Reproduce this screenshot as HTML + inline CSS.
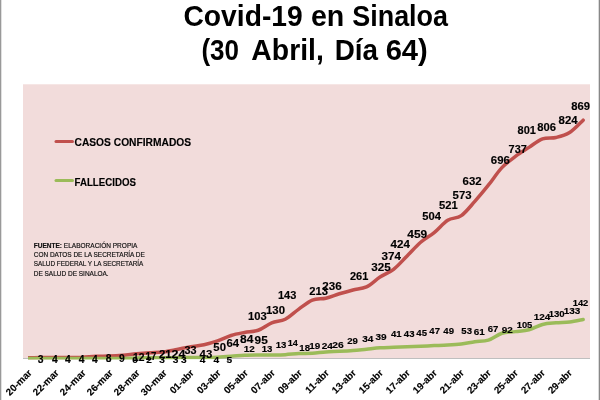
<!DOCTYPE html>
<html><head><meta charset="utf-8"><style>
html,body{margin:0;padding:0;background:#fff;}
body{width:600px;height:400px;overflow:hidden;position:relative;}
svg{position:absolute;left:0;top:0;will-change:transform;}
.lb{font-family:"Liberation Sans",sans-serif;font-weight:bold;fill:#000;stroke:#000;stroke-width:0.15px;}
.src{font-family:"Liberation Sans",sans-serif;fill:#111;stroke:#111;stroke-width:0.18px;}
.ttl{font-family:"Liberation Sans",sans-serif;font-weight:bold;fill:#000;}
.ax{font-family:"Liberation Sans",sans-serif;font-weight:bold;fill:#000;stroke:#000;stroke-width:0.15px;}
</style></head><body>
<svg width="600" height="400" viewBox="0 0 600 400">
<rect x="0" y="0" width="600" height="400" fill="#fff"/>
<rect x="0" y="0" width="1.3" height="400" fill="#999"/>
<rect x="598.7" y="0" width="1.3" height="400" fill="#888"/>
<rect x="23" y="84.3" width="567" height="274.5" fill="#F2DCDB"/>
<rect x="23" y="358" width="567" height="1" fill="#BFBFBF"/>
<clipPath id="pc"><rect x="28" y="0" width="572" height="359.5"/></clipPath>
<path clip-path="url(#pc)" d="M28.00,357.68 C30.26,357.63 37.03,357.45 41.54,357.40 C46.05,357.36 50.57,357.40 55.08,357.40 C59.59,357.40 64.11,357.40 68.62,357.40 C73.13,357.40 77.65,357.59 82.16,357.40 C86.67,357.22 91.19,356.53 95.70,356.31 C100.21,356.08 104.73,356.21 109.24,356.03 C113.75,355.85 118.27,355.58 122.78,355.21 C127.29,354.84 131.81,354.25 136.32,353.84 C140.83,353.43 145.35,353.06 149.86,352.74 C154.37,352.42 158.89,352.47 163.40,351.92 C167.91,351.37 172.43,350.32 176.94,349.45 C181.45,348.58 185.97,347.49 190.48,346.71 C194.99,345.93 199.51,345.75 204.02,344.79 C208.53,343.83 213.05,342.50 217.56,340.95 C222.07,339.40 226.59,336.88 231.10,335.47 C235.61,334.05 240.13,333.32 244.64,332.45 C249.15,331.58 253.67,331.86 258.18,330.26 C262.69,328.66 267.21,324.68 271.72,322.85 C276.23,321.03 280.75,321.57 285.26,319.29 C289.77,317.00 294.29,312.34 298.80,309.14 C303.31,305.94 307.83,301.92 312.34,300.10 C316.85,298.27 321.37,299.23 325.88,298.18 C330.39,297.12 334.91,295.16 339.42,293.79 C343.93,292.42 348.45,291.09 352.96,289.95 C357.47,288.81 361.99,289.08 366.50,286.93 C371.01,284.79 375.53,279.99 380.04,277.06 C384.55,274.14 389.07,272.90 393.58,269.38 C398.09,265.87 402.61,260.47 407.12,255.95 C411.63,251.42 416.15,246.12 420.66,242.24 C425.17,238.35 429.69,236.30 434.20,232.64 C438.71,228.99 443.23,223.14 447.74,220.30 C452.25,217.47 456.77,218.80 461.28,215.64 C465.79,212.49 470.31,206.46 474.82,201.38 C479.33,196.31 483.85,190.83 488.36,185.21 C492.87,179.58 497.39,172.46 501.90,167.66 C506.41,162.86 510.93,159.80 515.44,156.41 C519.95,153.03 524.47,150.29 528.98,147.37 C533.49,144.44 538.01,140.51 542.52,138.87 C547.03,137.22 551.55,138.55 556.06,137.49 C560.57,136.44 565.09,135.44 569.60,132.56 C574.11,129.68 580.88,122.28 583.14,120.22" fill="none" stroke="#C0504D" stroke-width="3.5" stroke-linecap="round" stroke-linejoin="round"/>
<path clip-path="url(#pc)" d="M28.00,358.50 C30.26,358.50 37.03,358.50 41.54,358.50 C46.05,358.50 50.57,358.50 55.08,358.50 C59.59,358.50 64.11,358.50 68.62,358.50 C73.13,358.50 77.65,358.50 82.16,358.50 C86.67,358.50 91.19,358.50 95.70,358.50 C100.21,358.50 104.73,358.50 109.24,358.50 C113.75,358.50 118.27,358.59 122.78,358.50 C127.29,358.41 131.81,358.09 136.32,357.95 C140.83,357.81 145.35,357.72 149.86,357.68 C154.37,357.63 158.89,357.68 163.40,357.68 C167.91,357.68 172.43,357.72 176.94,357.68 C181.45,357.63 185.97,357.45 190.48,357.40 C194.99,357.36 199.51,357.45 204.02,357.40 C208.53,357.36 213.05,357.31 217.56,357.13 C222.07,356.95 226.59,356.63 231.10,356.31 C235.61,355.99 240.13,355.44 244.64,355.21 C249.15,354.98 253.67,354.98 258.18,354.94 C262.69,354.89 267.21,354.98 271.72,354.94 C276.23,354.89 280.75,354.89 285.26,354.66 C289.77,354.43 294.29,353.79 298.80,353.56 C303.31,353.34 307.83,353.56 312.34,353.29 C316.85,353.02 321.37,352.24 325.88,351.92 C330.39,351.60 334.91,351.60 339.42,351.37 C343.93,351.14 348.45,350.91 352.96,350.55 C357.47,350.18 361.99,349.63 366.50,349.18 C371.01,348.72 375.53,348.13 380.04,347.81 C384.55,347.49 389.07,347.44 393.58,347.26 C398.09,347.07 402.61,346.89 407.12,346.71 C411.63,346.53 416.15,346.34 420.66,346.16 C425.17,345.98 429.69,345.80 434.20,345.61 C438.71,345.43 443.23,345.34 447.74,345.06 C452.25,344.79 456.77,344.52 461.28,343.97 C465.79,343.42 470.31,342.41 474.82,341.77 C479.33,341.13 483.85,341.55 488.36,340.13 C492.87,338.71 497.39,334.69 501.90,333.27 C506.41,331.86 510.93,332.22 515.44,331.63 C519.95,331.03 524.47,330.90 528.98,329.71 C533.49,328.52 538.01,325.64 542.52,324.50 C547.03,323.36 551.55,323.27 556.06,322.85 C560.57,322.44 565.09,322.58 569.60,322.03 C574.11,321.48 580.88,319.97 583.14,319.56" fill="none" stroke="#9BBB59" stroke-width="3.5" stroke-linecap="round" stroke-linejoin="round"/>
<text class="lb" x="37.81" y="363.29" font-size="11.02" textLength="5.77" lengthAdjust="spacingAndGlyphs">3</text>
<text class="lb" x="52.01" y="363.29" font-size="11.02" textLength="5.77" lengthAdjust="spacingAndGlyphs">4</text>
<text class="lb" x="65.11" y="363.29" font-size="11.02" textLength="5.77" lengthAdjust="spacingAndGlyphs">4</text>
<text class="lb" x="78.71" y="363.29" font-size="11.02" textLength="5.77" lengthAdjust="spacingAndGlyphs">4</text>
<text class="lb" x="92.11" y="363.29" font-size="11.02" textLength="5.77" lengthAdjust="spacingAndGlyphs">4</text>
<text class="lb" x="105.81" y="361.64" font-size="11.02" textLength="5.77" lengthAdjust="spacingAndGlyphs">8</text>
<text class="lb" x="119.11" y="361.64" font-size="11.02" textLength="5.77" lengthAdjust="spacingAndGlyphs">9</text>
<text class="lb" x="132.91" y="360.64" font-size="11.02" textLength="11.47" lengthAdjust="spacingAndGlyphs">12</text>
<text class="lb" x="145.61" y="359.79" font-size="11.02" textLength="10.77" lengthAdjust="spacingAndGlyphs">17</text>
<text class="lb" x="158.91" y="358.29" font-size="11.02" textLength="12.77" lengthAdjust="spacingAndGlyphs">21</text>
<text class="lb" x="171.51" y="358.14" font-size="11.02" textLength="13.87" lengthAdjust="spacingAndGlyphs">24</text>
<text class="lb" x="184.61" y="353.79" font-size="11.02" textLength="12.02" lengthAdjust="spacingAndGlyphs">33</text>
<text class="lb" x="199.61" y="357.54" font-size="11.02" textLength="12.67" lengthAdjust="spacingAndGlyphs">43</text>
<text class="lb" x="213.36" y="350.64" font-size="11.02" textLength="12.62" lengthAdjust="spacingAndGlyphs">50</text>
<text class="lb" x="226.51" y="346.94" font-size="11.02" textLength="12.62" lengthAdjust="spacingAndGlyphs">64</text>
<text class="lb" x="240.01" y="342.79" font-size="11.02" textLength="13.37" lengthAdjust="spacingAndGlyphs">84</text>
<text class="lb" x="254.61" y="343.79" font-size="11.02" textLength="13.17" lengthAdjust="spacingAndGlyphs">95</text>
<text class="lb" x="248.11" y="320.09" font-size="11.02" textLength="18.67" lengthAdjust="spacingAndGlyphs">103</text>
<text class="lb" x="266.01" y="313.69" font-size="11.02" textLength="18.97" lengthAdjust="spacingAndGlyphs">130</text>
<text class="lb" x="278.01" y="298.79" font-size="11.02" textLength="18.37" lengthAdjust="spacingAndGlyphs">143</text>
<text class="lb" x="309.21" y="294.79" font-size="11.02" textLength="18.77" lengthAdjust="spacingAndGlyphs">213</text>
<text class="lb" x="322.31" y="289.64" font-size="11.02" textLength="19.37" lengthAdjust="spacingAndGlyphs">236</text>
<text class="lb" x="350.01" y="280.14" font-size="11.02" textLength="18.37" lengthAdjust="spacingAndGlyphs">261</text>
<text class="lb" x="371.31" y="270.79" font-size="11.02" textLength="19.47" lengthAdjust="spacingAndGlyphs">325</text>
<text class="lb" x="381.41" y="259.69" font-size="11.02" textLength="19.47" lengthAdjust="spacingAndGlyphs">374</text>
<text class="lb" x="390.51" y="247.79" font-size="11.02" textLength="19.37" lengthAdjust="spacingAndGlyphs">424</text>
<text class="lb" x="407.31" y="237.79" font-size="11.02" textLength="19.97" lengthAdjust="spacingAndGlyphs">459</text>
<text class="lb" x="422.21" y="220.04" font-size="11.02" textLength="18.67" lengthAdjust="spacingAndGlyphs">504</text>
<text class="lb" x="439.11" y="209.16" font-size="11.02" textLength="18.77" lengthAdjust="spacingAndGlyphs">521</text>
<text class="lb" x="452.61" y="199.16" font-size="11.02" textLength="19.02" lengthAdjust="spacingAndGlyphs">573</text>
<text class="lb" x="462.61" y="184.79" font-size="11.02" textLength="19.02" lengthAdjust="spacingAndGlyphs">632</text>
<text class="lb" x="490.86" y="164.16" font-size="11.02" textLength="19.02" lengthAdjust="spacingAndGlyphs">696</text>
<text class="lb" x="508.61" y="153.09" font-size="11.02" textLength="18.17" lengthAdjust="spacingAndGlyphs">737</text>
<text class="lb" x="517.61" y="133.59" font-size="11.02" textLength="18.37" lengthAdjust="spacingAndGlyphs">801</text>
<text class="lb" x="537.21" y="131.09" font-size="11.02" textLength="18.77" lengthAdjust="spacingAndGlyphs">806</text>
<text class="lb" x="558.61" y="123.64" font-size="11.02" textLength="19.07" lengthAdjust="spacingAndGlyphs">824</text>
<text class="lb" x="571.21" y="109.81" font-size="11.02" textLength="18.77" lengthAdjust="spacingAndGlyphs">869</text>
<text class="lb" x="132.16" y="363.15" font-size="9.60" textLength="5.67" lengthAdjust="spacingAndGlyphs">0</text>
<text class="lb" x="146.16" y="362.68" font-size="9.60" textLength="5.67" lengthAdjust="spacingAndGlyphs">2</text>
<text class="lb" x="159.16" y="362.68" font-size="9.60" textLength="5.67" lengthAdjust="spacingAndGlyphs">3</text>
<text class="lb" x="172.76" y="362.68" font-size="9.60" textLength="5.67" lengthAdjust="spacingAndGlyphs">3</text>
<text class="lb" x="180.91" y="362.68" font-size="9.60" textLength="5.67" lengthAdjust="spacingAndGlyphs">3</text>
<text class="lb" x="199.66" y="362.68" font-size="9.60" textLength="5.67" lengthAdjust="spacingAndGlyphs">4</text>
<text class="lb" x="213.41" y="362.68" font-size="9.60" textLength="5.67" lengthAdjust="spacingAndGlyphs">4</text>
<text class="lb" x="226.56" y="362.68" font-size="9.60" textLength="5.67" lengthAdjust="spacingAndGlyphs">5</text>
<text class="lb" x="243.66" y="351.60" font-size="9.60" textLength="11.07" lengthAdjust="spacingAndGlyphs">12</text>
<text class="lb" x="261.66" y="351.60" font-size="9.60" textLength="10.67" lengthAdjust="spacingAndGlyphs">13</text>
<text class="lb" x="275.66" y="348.10" font-size="9.60" textLength="10.67" lengthAdjust="spacingAndGlyphs">13</text>
<text class="lb" x="287.66" y="345.65" font-size="9.60" textLength="10.17" lengthAdjust="spacingAndGlyphs">14</text>
<text class="lb" x="299.36" y="350.65" font-size="9.60" textLength="10.67" lengthAdjust="spacingAndGlyphs">18</text>
<text class="lb" x="309.36" y="348.95" font-size="9.60" textLength="10.97" lengthAdjust="spacingAndGlyphs">19</text>
<text class="lb" x="321.66" y="349.15" font-size="9.60" textLength="11.17" lengthAdjust="spacingAndGlyphs">24</text>
<text class="lb" x="332.16" y="347.95" font-size="9.60" textLength="11.47" lengthAdjust="spacingAndGlyphs">26</text>
<text class="lb" x="347.16" y="344.40" font-size="9.60" textLength="10.67" lengthAdjust="spacingAndGlyphs">29</text>
<text class="lb" x="362.16" y="341.95" font-size="9.60" textLength="11.17" lengthAdjust="spacingAndGlyphs">34</text>
<text class="lb" x="375.46" y="339.65" font-size="9.60" textLength="11.17" lengthAdjust="spacingAndGlyphs">39</text>
<text class="lb" x="390.96" y="336.80" font-size="9.60" textLength="10.67" lengthAdjust="spacingAndGlyphs">41</text>
<text class="lb" x="403.86" y="336.50" font-size="9.60" textLength="10.67" lengthAdjust="spacingAndGlyphs">43</text>
<text class="lb" x="416.36" y="335.55" font-size="9.60" textLength="10.67" lengthAdjust="spacingAndGlyphs">45</text>
<text class="lb" x="429.36" y="334.40" font-size="9.60" textLength="10.67" lengthAdjust="spacingAndGlyphs">47</text>
<text class="lb" x="443.36" y="333.75" font-size="9.60" textLength="10.67" lengthAdjust="spacingAndGlyphs">49</text>
<text class="lb" x="461.36" y="333.90" font-size="9.60" textLength="10.67" lengthAdjust="spacingAndGlyphs">53</text>
<text class="lb" x="473.66" y="335.00" font-size="9.60" textLength="11.07" lengthAdjust="spacingAndGlyphs">61</text>
<text class="lb" x="487.66" y="332.30" font-size="9.60" textLength="10.67" lengthAdjust="spacingAndGlyphs">67</text>
<text class="lb" x="501.66" y="332.50" font-size="9.60" textLength="11.07" lengthAdjust="spacingAndGlyphs">92</text>
<text class="lb" x="516.66" y="327.80" font-size="9.60" textLength="15.67" lengthAdjust="spacingAndGlyphs">105</text>
<text class="lb" x="533.66" y="319.80" font-size="9.60" textLength="16.67" lengthAdjust="spacingAndGlyphs">124</text>
<text class="lb" x="548.66" y="317.30" font-size="9.60" textLength="16.07" lengthAdjust="spacingAndGlyphs">130</text>
<text class="lb" x="563.66" y="313.80" font-size="9.60" textLength="16.67" lengthAdjust="spacingAndGlyphs">133</text>
<text class="lb" x="572.66" y="306.10" font-size="9.60" textLength="15.67" lengthAdjust="spacingAndGlyphs">142</text>
<line x1="56" y1="141.5" x2="72.5" y2="141.5" stroke="#C0504D" stroke-width="3" stroke-linecap="round"/>
<line x1="56" y1="180.5" x2="72.5" y2="180.5" stroke="#9BBB59" stroke-width="3" stroke-linecap="round"/>
<text class="lb" x="74.50" y="146.10" font-size="11.34" textLength="116.59" lengthAdjust="spacingAndGlyphs">CASOS CONFIRMADOS</text>
<text class="lb" x="74.50" y="185.90" font-size="11.34" textLength="61.39" lengthAdjust="spacingAndGlyphs">FALLECIDOS</text>
<text class="src" x="33.76" y="248.00" font-size="6.90" textLength="103.68" lengthAdjust="spacingAndGlyphs"><tspan font-weight="bold">FUENTE:</tspan> ELABORACIÓN PROPIA</text>
<text class="src" x="33.75" y="257.10" font-size="7.12" textLength="111.10" lengthAdjust="spacingAndGlyphs">CON DATOS DE LA SECRETARÍA DE</text>
<text class="src" x="33.74" y="266.40" font-size="7.41" textLength="109.62" lengthAdjust="spacingAndGlyphs">SALUD FEDERAL Y LA SECRETARÍA</text>
<text class="src" x="33.75" y="275.50" font-size="7.12" textLength="74.90" lengthAdjust="spacingAndGlyphs">DE SALUD DE SINALOA.</text>
<text class="ttl" x="183.48" y="26.20" font-size="29.24" textLength="119.25" lengthAdjust="spacingAndGlyphs">Covid-19</text>
<text class="ttl" x="310.98" y="26.20" font-size="29.24" textLength="33.35" lengthAdjust="spacingAndGlyphs">en</text>
<text class="ttl" x="352.28" y="26.20" font-size="29.24" textLength="95.75" lengthAdjust="spacingAndGlyphs">Sinaloa</text>
<text class="ttl" x="201.47" y="59.80" font-size="29.38" textLength="37.56" lengthAdjust="spacingAndGlyphs">(30</text>
<text class="ttl" x="251.37" y="59.80" font-size="29.38" textLength="72.41" lengthAdjust="spacingAndGlyphs">Abril,</text>
<text class="ttl" x="334.72" y="59.80" font-size="29.38" textLength="43.31" lengthAdjust="spacingAndGlyphs">Día</text>
<text class="ttl" x="385.67" y="59.80" font-size="29.38" textLength="42.16" lengthAdjust="spacingAndGlyphs">64)</text>
<text class="ax" transform="translate(32.50,373.50) rotate(-45)" x="0" y="0" font-size="9.80" text-anchor="end">20-mar</text>
<text class="ax" transform="translate(59.51,373.50) rotate(-45)" x="0" y="0" font-size="9.80" text-anchor="end">22-mar</text>
<text class="ax" transform="translate(86.52,373.50) rotate(-45)" x="0" y="0" font-size="9.80" text-anchor="end">24-mar</text>
<text class="ax" transform="translate(113.53,373.50) rotate(-45)" x="0" y="0" font-size="9.80" text-anchor="end">26-mar</text>
<text class="ax" transform="translate(140.54,373.50) rotate(-45)" x="0" y="0" font-size="9.80" text-anchor="end">28-mar</text>
<text class="ax" transform="translate(167.55,373.50) rotate(-45)" x="0" y="0" font-size="9.80" text-anchor="end">30-mar</text>
<text class="ax" transform="translate(194.56,373.50) rotate(-45)" x="0" y="0" font-size="9.80" text-anchor="end">01-abr</text>
<text class="ax" transform="translate(221.57,373.50) rotate(-45)" x="0" y="0" font-size="9.80" text-anchor="end">03-abr</text>
<text class="ax" transform="translate(248.58,373.50) rotate(-45)" x="0" y="0" font-size="9.80" text-anchor="end">05-abr</text>
<text class="ax" transform="translate(275.59,373.50) rotate(-45)" x="0" y="0" font-size="9.80" text-anchor="end">07-abr</text>
<text class="ax" transform="translate(302.60,373.50) rotate(-45)" x="0" y="0" font-size="9.80" text-anchor="end">09-abr</text>
<text class="ax" transform="translate(329.61,373.50) rotate(-45)" x="0" y="0" font-size="9.80" text-anchor="end">11-abr</text>
<text class="ax" transform="translate(356.62,373.50) rotate(-45)" x="0" y="0" font-size="9.80" text-anchor="end">13-abr</text>
<text class="ax" transform="translate(383.63,373.50) rotate(-45)" x="0" y="0" font-size="9.80" text-anchor="end">15-abr</text>
<text class="ax" transform="translate(410.64,373.50) rotate(-45)" x="0" y="0" font-size="9.80" text-anchor="end">17-abr</text>
<text class="ax" transform="translate(437.65,373.50) rotate(-45)" x="0" y="0" font-size="9.80" text-anchor="end">19-abr</text>
<text class="ax" transform="translate(464.66,373.50) rotate(-45)" x="0" y="0" font-size="9.80" text-anchor="end">21-abr</text>
<text class="ax" transform="translate(491.67,373.50) rotate(-45)" x="0" y="0" font-size="9.80" text-anchor="end">23-abr</text>
<text class="ax" transform="translate(518.68,373.50) rotate(-45)" x="0" y="0" font-size="9.80" text-anchor="end">25-abr</text>
<text class="ax" transform="translate(545.69,373.50) rotate(-45)" x="0" y="0" font-size="9.80" text-anchor="end">27-abr</text>
<text class="ax" transform="translate(572.70,373.50) rotate(-45)" x="0" y="0" font-size="9.80" text-anchor="end">29-abr</text>
</svg>
</body></html>
